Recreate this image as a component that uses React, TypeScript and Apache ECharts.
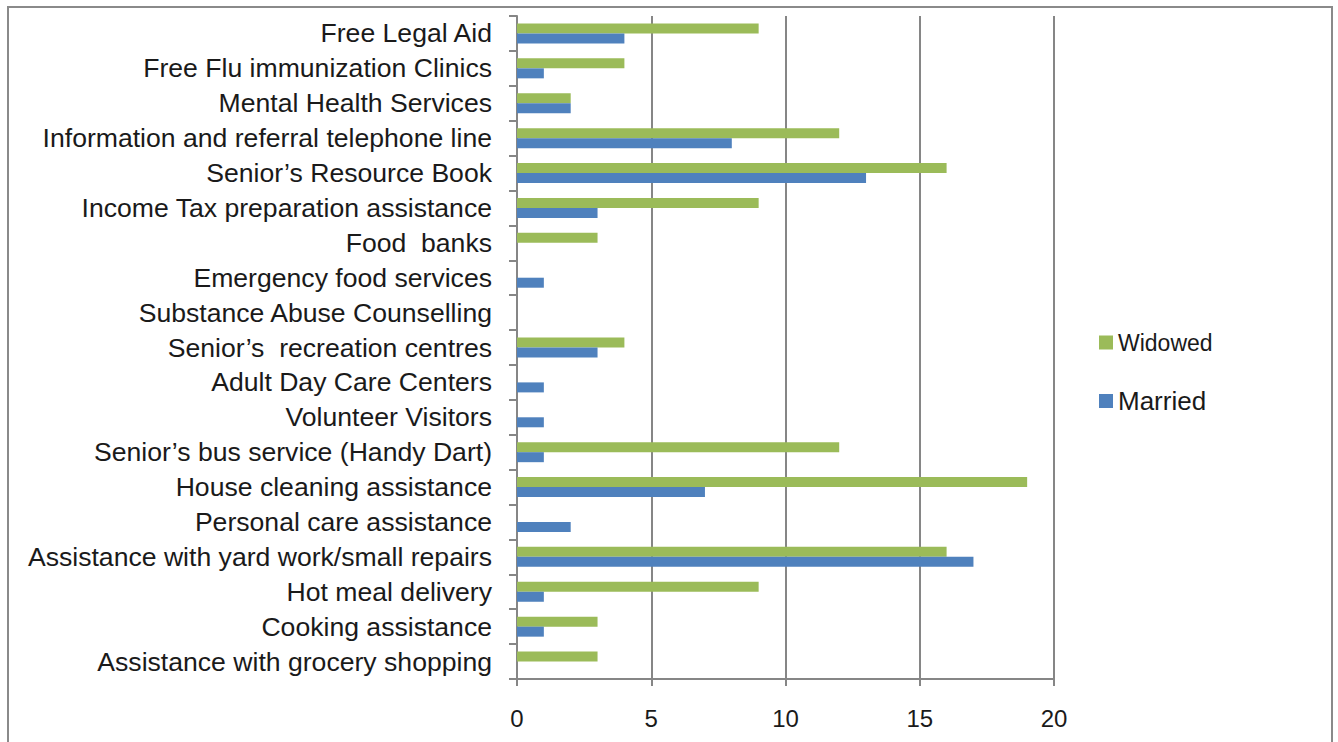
import React, { useEffect, useRef } from "react";
import * as echarts from "echarts";

// Categories listed top to bottom as they appear in the chart
const categories = [
  "Free Legal Aid",
  "Free Flu immunization Clinics",
  "Mental Health Services",
  "Information and referral telephone line",
  "Senior’s Resource Book",
  "Income Tax preparation assistance",
  "Food  banks",
  "Emergency food services",
  "Substance Abuse Counselling",
  "Senior’s  recreation centres",
  "Adult Day Care Centers",
  "Volunteer Visitors",
  "Senior’s bus service (Handy Dart)",
  "House cleaning assistance",
  "Personal care assistance",
  "Assistance with yard work/small repairs",
  "Hot meal delivery",
  "Cooking assistance",
  "Assistance with grocery shopping",
];

const widowed = [9, 4, 2, 12, 16, 9, 3, 0, 0, 4, 0, 0, 12, 19, 0, 16, 9, 3, 3];
const married = [4, 1, 2, 8, 13, 3, 0, 1, 0, 3, 1, 1, 1, 7, 2, 17, 1, 1, 0];

const xTicks = { min: 0, max: 20, interval: 5 };

const FONT = "'Liberation Sans', Arial, sans-serif";

export default function App() {
  const ref = useRef<HTMLDivElement>(null);

  useEffect(() => {
    if (!ref.current) return;
    const chart = echarts.init(ref.current, null, { renderer: "svg" });
    const cats = [...categories].reverse();
    const w = [...widowed].reverse();
    const m = [...married].reverse();
    chart.setOption({
      animation: false,
      backgroundColor: "#ffffff",
      textStyle: { fontFamily: FONT },
      graphic: [
        {
          type: "rect",
          shape: { x: 8, y: 7, width: 1324, height: 800 },
          style: { fill: "none", stroke: "#8a8a8a", lineWidth: 2 },
          silent: true,
        },
      ],
      grid: { left: 517, top: 16, right: 284, bottom: 63, containLabel: false },
      legend: {
        orient: "vertical",
        left: 1099,
        top: 331,
        padding: 0,
        itemWidth: 14,
        itemHeight: 14,
        itemGap: 34,
        icon: "rect",
        data: [
          { name: "Widowed", textStyle: { fontSize: 23 } },
          { name: "Married", textStyle: { fontSize: 26 } },
        ],
        textStyle: { color: "#1a1a1a", fontFamily: FONT, padding: [0, 0, 0, 0] },
      },
      xAxis: {
        type: "value",
        min: xTicks.min,
        max: xTicks.max,
        interval: xTicks.interval,
        axisLine: { show: true, lineStyle: { color: "#868686", width: 2 } },
        axisTick: { show: true, length: 7, lineStyle: { color: "#868686", width: 2 } },
        splitLine: { show: true, lineStyle: { color: "#868686", width: 2 } },
        axisLabel: { color: "#1a1a1a", fontSize: 24, margin: 27, fontFamily: FONT },
      },
      yAxis: {
        type: "category",
        data: cats,
        axisLine: { show: true, lineStyle: { color: "#868686", width: 2 } },
        axisTick: { show: true, length: 8, interval: 0, lineStyle: { color: "#868686", width: 2 } },
        axisLabel: {
          color: "#1a1a1a",
          fontSize: 26.6,
          margin: 25,
          interval: 0,
          hideOverlap: false,
          fontFamily: FONT,
        },
      },
      series: [
        {
          name: "Widowed",
          type: "bar",
          data: w,
          barWidth: 10,
          barGap: "0%",
          itemStyle: { color: "#9BBB59" },
        },
        {
          name: "Married",
          type: "bar",
          data: m,
          barWidth: 10,
          barGap: "0%",
          itemStyle: { color: "#4F81BD" },
        },
      ],
    });
    return () => chart.dispose();
  }, []);

  return (
    <div style={{ position: "fixed", left: 0, top: 0, width: 1338, height: 742 }}>
      <div ref={ref} style={{ width: 1338, height: 742 }} />
    </div>
  );
}
